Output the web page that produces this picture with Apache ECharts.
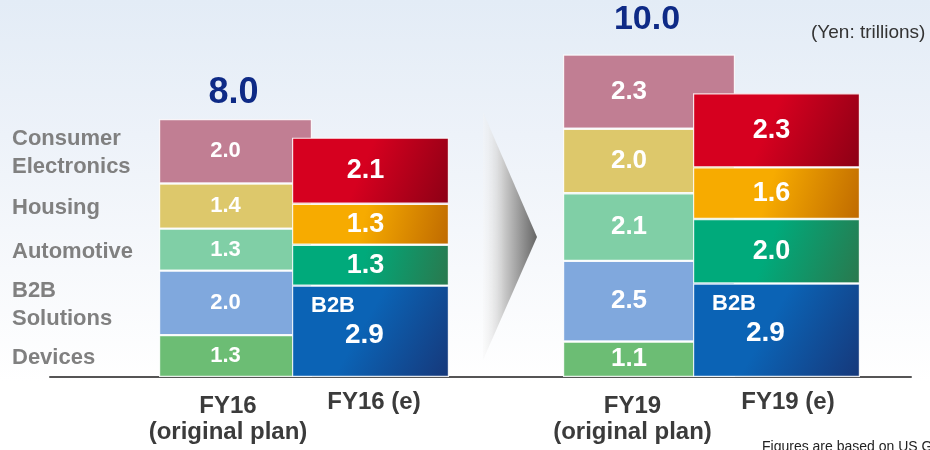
<!DOCTYPE html>
<html>
<head>
<meta charset="utf-8">
<script src="https://cdn.jsdelivr.net/npm/echarts@6/dist/echarts.min.js"></script>
<style>
html,body{margin:0;padding:0;background:#fff;}
#c{width:930px;height:450px;background:linear-gradient(to bottom,#e3ecf6 0%,#edf2f9 30%,#f7f9fc 60%,#ffffff 85%);}
</style>
</head>
<body>
<div id="c"></div>
<script>
// ---- data ----
const categories = ['FY16\n(original plan)', 'FY16 (e)', 'FY19\n(original plan)', 'FY19 (e)'];
const segmentNames = ['Devices', 'B2B\nSolutions', 'Automotive', 'Housing', 'Consumer\nElectronics'];
const devices    = [1.3, null, 1.1, null];
const b2b        = [2.0, 2.9, 2.5, 2.9];
const automotive = [1.3, 1.3, 2.1, 2.0];
const housing    = [1.4, 1.3, 2.0, 1.6];
const consumer   = [2.0, 2.1, 2.3, 2.3];
const totals     = [8.0, null, 10.0, null];
const b2bEstimateTag = 'B2B';
const unitNote = '(Yen: trillions)';
const footNote = 'Figures are based on US GAAP.';

// ---- layout / style ----
const FONT = '"Liberation Sans", Arial, Helvetica, sans-serif';
const plotTop = 54.5, plotHeight = 322.5;
const barBoxes = [
  {left: 159, width: 153},
  {left: 292, width: 157},
  {left: 563, width: 172},
  {left: 693, width: 167}
];
const isPlan = [true, false, true, false];
const yMax = [10, 10.24, 10, 10];
const planColors = ['#6cbd74', '#80a8dd', '#80cfa6', '#ddc86b', '#c17e93'];
const estGradients = [null, ['#0b63b5', '#16387a'], ['#00aa7b', '#2a784d'], ['#f7ab00', '#bf6a00'], ['#d6001f', '#8c0015']];
const valueFont = [22, 27, 26, 27];
const valueOffset = [-10, -5, -20, -5];
const catLabelShift = [-7.5, 3.5, -16.5, 11.5];
const catLabelMargin = [16, 12, 16, 12];
const totalDistance = [8, 0, 18, 0];
const totalFont = [36, 0, 34, 0];

const segArrays = [devices, b2b, automotive, housing, consumer];

const grids = [], xAxes = [], yAxes = [], series = [];

barBoxes.forEach((b, i) => {
  grids.push({left: b.left, width: b.width, top: plotTop, height: plotHeight});
  const sh = catLabelShift[i];
  xAxes.push({
    gridIndex: i, type: 'category', data: [categories[i]],
    axisLine: {show: false}, axisTick: {show: false},
    axisLabel: {
      show: true, interval: 0, margin: catLabelMargin[i],
      fontFamily: FONT, fontSize: 24, fontWeight: 'bold', color: '#3b3b3b', lineHeight: 26,
      align: 'center',
      padding: sh < 0 ? [0, -2 * sh, 0, 0] : [0, 0, 0, 2 * sh]
    }
  });
  yAxes.push({gridIndex: i, type: 'value', min: 0, max: yMax[i], show: false, splitLine: {show: false}});

  segArrays.forEach((arr, k) => {
    const v = arr[i];
    if (v == null) return;
    let color, label;
    if (isPlan[i]) {
      color = planColors[k];
      label = {
        show: true, position: 'inside', offset: [valueOffset[i], 0],
        color: '#fff', fontFamily: FONT, fontWeight: 'bold', fontSize: valueFont[i],
        formatter: p => p.value.toFixed(1)
      };
    } else {
      const g = estGradients[k];
      color = {type: 'linear', x: 0, y: 0, x2: 1, y2: 1,
        colorStops: [{offset: 0, color: g[0]}, {offset: 0.45, color: g[0]}, {offset: 1, color: g[1]}]};
      if (k === 1) {
        label = {
          show: true, position: [19, 7], align: 'left', verticalAlign: 'top',
          formatter: p => '{n|' + b2bEstimateTag + '}\n{v|' + p.value.toFixed(1) + '}',
          rich: {
            n: {fontFamily: FONT, fontWeight: 'bold', fontSize: 22, lineHeight: 26, color: '#fff'},
            v: {fontFamily: FONT, fontWeight: 'bold', fontSize: 28, lineHeight: 34, color: '#fff', padding: [0, 0, 0, 34]}
          }
        };
      } else {
        label = {
          show: true, position: 'inside', offset: [valueOffset[i], 0],
          color: '#fff', fontFamily: FONT, fontWeight: 'bold', fontSize: valueFont[i],
          formatter: p => p.value.toFixed(1)
        };
      }
    }
    series.push({
      type: 'bar', name: segmentNames[k], xAxisIndex: i, yAxisIndex: i,
      stack: 'bar' + i, barWidth: '100%', data: [v], silent: true,
      z: isPlan[i] ? 2 : 4,
      itemStyle: {color: color, borderColor: 'rgba(255,255,255,0.85)', borderWidth: 1.2},
      label: label
    });
  });

  if (totals[i] != null) {
    series.push({
      type: 'bar', name: 'total', xAxisIndex: i, yAxisIndex: i,
      stack: 'bar' + i, barWidth: '100%', data: [0], silent: true, z: 2,
      itemStyle: {color: 'rgba(0,0,0,0)'},
      label: {
        show: true, position: 'top', distance: totalDistance[i], offset: [-2, 0],
        fontFamily: FONT, fontWeight: 'bold', fontSize: totalFont[i], color: '#0e2a86',
        formatter: () => totals[i].toFixed(1)
      }
    });
  }
});

// overlay grid for segment names (aligned with first bar)
grids.push({left: barBoxes[0].left, width: barBoxes[0].width, top: plotTop, height: plotHeight});
xAxes.push({gridIndex: 4, type: 'category', data: [''], show: false});
yAxes.push({gridIndex: 4, type: 'value', min: 0, max: yMax[0], show: false, splitLine: {show: false}});
segArrays.forEach((arr, k) => {
  series.push({
    type: 'bar', name: segmentNames[k], xAxisIndex: 4, yAxisIndex: 4, stack: 'names',
    barWidth: '100%', data: [arr[0]], silent: true, z: 1,
    itemStyle: {color: 'rgba(0,0,0,0)'},
    label: {
      show: true, position: [-147, '50%'], align: 'left', verticalAlign: 'middle', offset: [0, 2],
      fontFamily: FONT, fontWeight: 'bold', fontSize: 22, lineHeight: 28, color: '#808080',
      formatter: () => segmentNames[k]
    }
  });
});

// baseline grid
grids.push({left: 50, right: 19, top: plotTop, height: plotHeight});
xAxes.push({gridIndex: 5, type: 'value', min: 0, max: 1,
  axisLine: {show: true, onZero: false, lineStyle: {color: '#555', width: 2}},
  axisTick: {show: false}, axisLabel: {show: false}, splitLine: {show: false}});
yAxes.push({gridIndex: 5, type: 'value', min: 0, max: 1, show: false, splitLine: {show: false}});

const chart = echarts.init(document.getElementById('c'), null, {renderer: 'canvas'});
chart.setOption({
  animation: false,
  backgroundColor: 'transparent',
  title: [
    {text: unitNote, left: 811, top: 23, padding: 0,
      textStyle: {fontFamily: FONT, fontSize: 19, fontWeight: 'normal', color: '#333'}},
    {text: footNote, left: 762, top: 440, padding: 0,
      textStyle: {fontFamily: FONT, fontSize: 14, fontWeight: 'normal', color: '#222'}}
  ],
  graphic: [{
    type: 'polygon', silent: true, z: 0,
    shape: {points: [[483, 112], [537, 237], [483, 360]]},
    style: {fill: {type: 'linear', x: 0, y: 0, x2: 1, y2: 0,
      colorStops: [{offset: 0, color: 'rgba(245,245,245,0.3)'}, {offset: 0.4, color: '#c8c8c8'}, {offset: 1, color: '#656565'}]}}
  }],
  grid: grids,
  xAxis: xAxes,
  yAxis: yAxes,
  series: series
});
</script>
</body>
</html>
